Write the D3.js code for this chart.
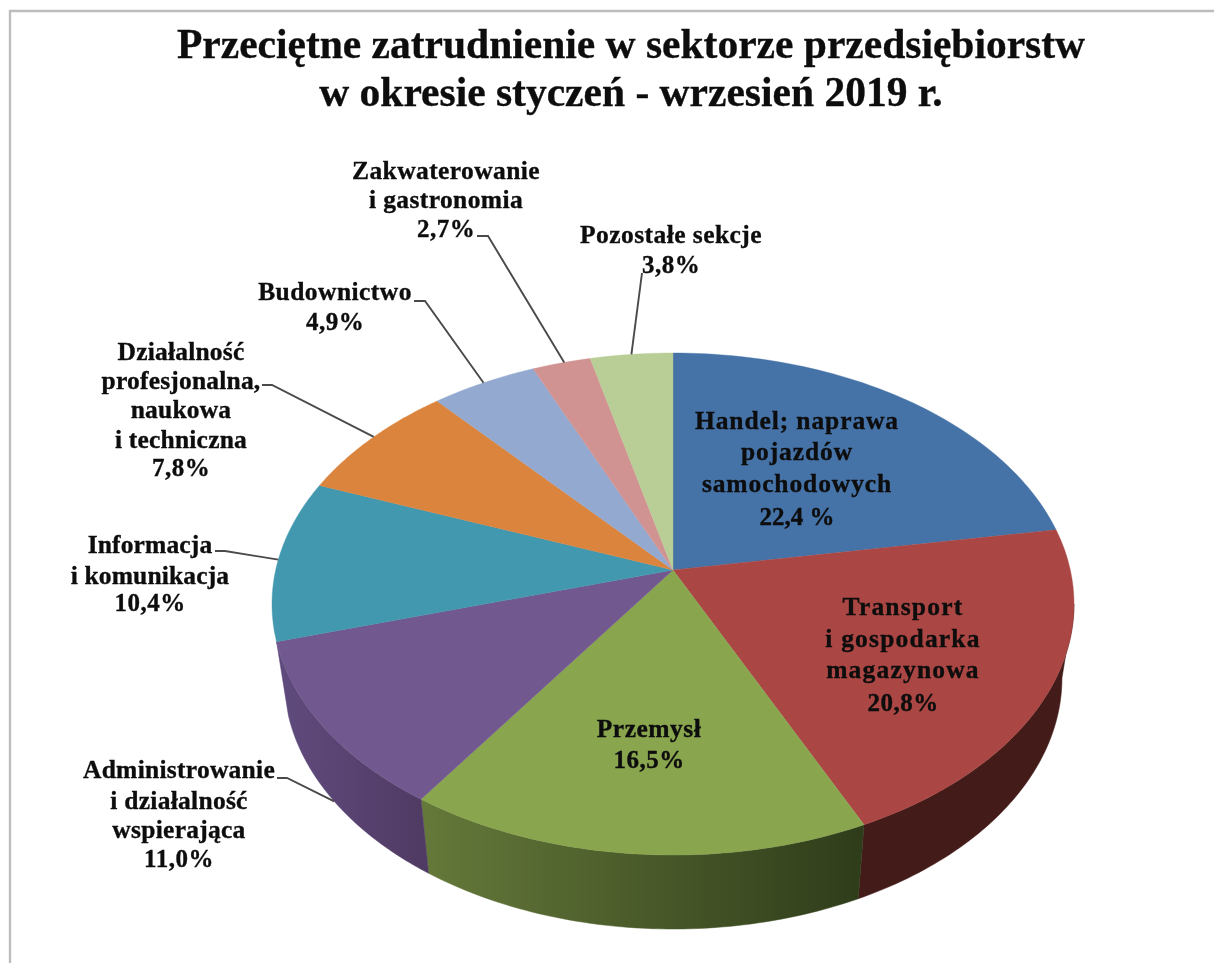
<!DOCTYPE html>
<html lang="pl"><head><meta charset="utf-8">
<script src="https://cdnjs.cloudflare.com/ajax/libs/d3/7.8.5/d3.min.js"></script>
<style>
html,body{margin:0;padding:0;background:#fff;overflow:hidden}
svg{display:block;filter:blur(0.55px)}
text{font-family:"Liberation Serif",serif;font-weight:700;fill:#0d0d0d;stroke:#0d0d0d;stroke-width:0.35px;text-anchor:middle}
</style></head><body>
<svg id="c" width="1214" height="963"></svg>
<script>
const categories = ["Handel; naprawa pojazdów samochodowych","Transport i gospodarka magazynowa","Przemysł","Administrowanie i działalność wspierająca","Informacja i komunikacja","Działalność profesjonalna, naukowa i techniczna","Budownictwo","Zakwaterowanie i gastronomia","Pozostałe sekcje"];
const values = [22.4,20.8,16.5,11.0,10.4,7.8,4.9,2.7,3.8];
const topColors = ["#4572A7","#AA4643","#89A54E","#71588F","#4198AF","#DB843D","#93A9CF","#D19392","#B9CD96"];
const wallStops = [["#4572A7","#4572A7"],["#431B18","#431B18"],["#65793A","#2F3C1A"],["#604B7E","#4F3A63"],["#4198AF","#4198AF"],["#DB843D","#DB843D"],["#93A9CF","#93A9CF"],["#D19392","#D19392"],["#B9CD96","#B9CD96"]];
const titleLines = ["Przeciętne zatrudnienie w sektorze przedsiębiorstw","w okresie styczeń - wrzesień 2019 r."];
const labelLines = [
 ["Handel; naprawa","pojazdów","samochodowych","22,4 %"],
 ["Transport","i gospodarka","magazynowa","20,8%"],
 ["Przemysł","16,5%"],
 ["Administrowanie","i działalność","wspierająca","11,0%"],
 ["Informacja","i komunikacja","10,4%"],
 ["Działalność","profesjonalna,","naukowa","i techniczna","7,8%"],
 ["Budownictwo","4,9%"],
 ["Zakwaterowanie","i gastronomia","2,7%"],
 ["Pozostałe sekcje","3,8%"]];
// layout: label centre x, line baselines, letter spacing of the words
const labelX = [797,903,649,179,150,181,335,446,671];
const labelY = [[429,460,492,525],[615,647,678,711],[737,768],[778,809,838,867],[553,584,611],[360,389,418,448,476],[300,330],[179,208,237],[243,273]];
const labelSpacing = [0.9,1.2,0.5,0.27,0.15,0.2,0.45,0.4,0.44];
// leader lines: text-side points, then slice-side anchor (fraction across slice, on lower rim or not)
const leaderStart = [null,null,null,[[277,778],[287,778]],[[215,551],[225,551]],[[262,385],[272,385]],[[414,301],[425,301]],[[477,236],[488,236]],[[642,273]]];
const leaderFrac = [0,0,0,0.5,0.5,0.52,0.5,0.55,0.5];
const leaderLower = [false,false,false,true,false,false,false,false,false];

const W=1214,H=963,cx=673,cy=570,k=0.1355,A=246.4,B=397.3,depth=74,bottomScale=0.97;
const svg=d3.select("#c");
svg.append("path").attr("d",d3.line()([[10,H],[10,11],[W,11]])).attr("fill","none").attr("stroke","#bdbdbd").attr("stroke-width",2.4);

const project=a=>{const u=Math.sin(a),v=-Math.cos(a),w=1-k*v;return [cx+B*u/w,cy+A*v/w];};
const projectBottom=a=>{const p=project(a);return [cx+(p[0]-cx)*bottomScale,p[1]+depth];};
const slices=d3.pie().sort(null).startAngle(0).endAngle(2*Math.PI)(values);
const line=d3.line();
const arcPts=(a0,a1,f)=>d3.range(0,61).map(i=>f(a0+(a1-a0)*i/60));

const defs=svg.append("defs");
const visL=97.8*Math.PI/180, visR=slices[3].endAngle;
const wallG=svg.append("g"),topG=svg.append("g");
slices.forEach((s,i)=>{
  const a0=Math.max(s.startAngle,visL),a1=Math.min(s.endAngle,visR);
  if(a1<=a0) return;
  const top=arcPts(a0,a1,project),bot=arcPts(a0,a1,projectBottom).reverse();
  const xs=top.concat(bot).map(d=>d[0]);
  const g=defs.append("linearGradient").attr("id","w"+i).attr("gradientUnits","userSpaceOnUse")
    .attr("x1",d3.min(xs)).attr("x2",d3.max(xs)).attr("y1",0).attr("y2",0);
  g.append("stop").attr("offset",0).attr("stop-color",wallStops[i][0]);
  g.append("stop").attr("offset",1).attr("stop-color",wallStops[i][1]);
  wallG.append("path").attr("d",line(top.concat(bot))+"Z").attr("fill",`url(#w${i})`).attr("stroke",`url(#w${i})`).attr("stroke-width",0.5);
});
slices.forEach((s,i)=>{
  const pts=[[cx,cy]].concat(arcPts(s.startAngle,s.endAngle,project));
  topG.append("path").attr("d",line(pts)+"Z").attr("fill",topColors[i]).attr("stroke",topColors[i]).attr("stroke-width",0.4);
});

slices.forEach((s,i)=>{
  if(!leaderStart[i]) return;
  const e=(leaderLower[i]?projectBottom:project)(s.startAngle+(s.endAngle-s.startAngle)*leaderFrac[i]);
  svg.append("path").attr("d",line(leaderStart[i].concat([e]))).attr("fill","none").attr("stroke","#4a4a4a").attr("stroke-width",1.9);
});

titleLines.forEach((t,i)=>svg.append("text").attr("x",631).attr("y",i?106:58).attr("font-size",41.5).text(t));
labelLines.forEach((ls,i)=>ls.forEach((t,j)=>{
  const pct=/%/.test(t);
  svg.append("text").attr("x",labelX[i]).attr("y",labelY[i][j])
    .attr("font-size",pct?25:25.5)
    .attr("letter-spacing",pct?(i===0?0:0.5):labelSpacing[i]).text(t);
}));
</script></body></html>
